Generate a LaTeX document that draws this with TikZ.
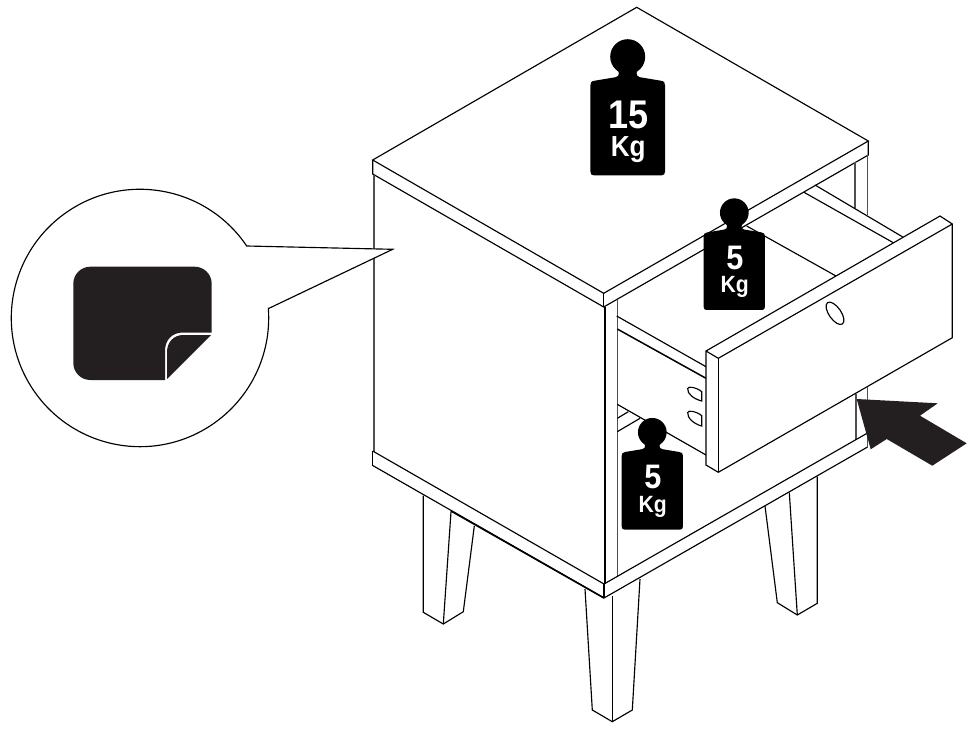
\documentclass[tikz,border=0pt]{standalone}
\usepackage{fontspec}
\setmainfont{Liberation Sans}
\definecolor{inkdark}{HTML}{231F20}
\definecolor{wallgrey}{HTML}{505050}
\tikzset{
  ln/.style={draw=black,line width=1.15pt,line join=miter},
  wall/.style={draw=wallgrey,line width=1.6pt},
  panel/.style={ln,fill=white},
  wtext/.style={text=white,inner sep=0pt,anchor=base},
}
% weight: #1 name, #2 cx, #3 cy, #4 scale, #5 digits, #6 digit size, #7 Kg size, #8 digit baseline dy, #9 Kg baseline dy
\newcommand{\weightmark}[9]{%
  \begin{scope}[shift={(#2,#3)},scale=#4]
    \fill[black] (0,0) circle (17.5);
    \fill[black] (-11,10) .. controls (-9,15) and (-7,19) .. (-12,20.5) -- (-33,24)
      .. controls (-36.5,24.5) and (-37.3,26) .. (-37.3,28.5) -- (-37.3,115)
      .. controls (-37.3,117.5) and (-36,118.6) .. (-34,118.6) -- (34,118.6)
      .. controls (36,118.6) and (37.3,117.5) .. (37.3,115) -- (37.3,28.5)
      .. controls (37.3,26) and (36.5,24.5) .. (33,24) -- (12,20.5)
      .. controls (7,19) and (9,15) .. (11,10) -- cycle;
  \end{scope}
  \node[wtext] (#1d) at (#2+0.5,#3+#8) {\fontsize{#6}{#6}\selectfont\bfseries\scalebox{0.9}[1]{#5}};
  \node[wtext] (#1k) at (#2+0.5,#3+#9) {\fontsize{#7}{#7}\selectfont\bfseries\scalebox{0.9}[1]{Kg}};
}
\begin{document}
\begin{tikzpicture}[x=1pt,y=-1pt]
\useasboundingbox (0,0) rectangle (971,728);
\fill[white] (0,0) rectangle (971,728);

% legs
\draw[ln] (423.3,495.7) -- (423.3,612.3) -- (443.3,624) -- (463.3,611.7) -- (474.3,526);
\draw[ln] (451,511.7) -- (443.3,624);
\draw[ln] (585,589) -- (592.3,710) -- (612.3,721.7) -- (632.3,710) -- (640,579);
\draw[ln] (612.3,596) -- (612.3,721.7);
\draw[ln] (765,506) -- (777.3,602.7) -- (797.3,615) -- (817.3,603.3) -- (817.3,476.7);
\draw[ln] (789.3,492.7) -- (797.3,615);

% top board
\draw[ln] (372.7,160) -- (636.7,7.3) -- (868.3,141) -- (603.7,293.3) -- cycle;
\draw[ln] (372.7,160) -- (372.7,174) -- (603.7,307) -- (868.3,155) -- (868.3,141);
\draw[ln] (603.7,293.3) -- (603.7,307);

% body walls
\draw[wall] (374,175) -- (374,452);
\draw[ln] (605,307) -- (605,584);
\draw[wall] (617.3,300) -- (617.3,577);
\draw[wall] (855,162) -- (855,208);
\draw[wall] (867.5,155) -- (867.5,215);
\draw[wall] (855.7,394) -- (855.7,440);
\draw[wall] (867.5,387) -- (867.5,447);

% base board
\draw[ln] (372.7,451) -- (604,584) -- (867.5,433);
\draw[ln] (372.7,465.5) -- (604,598) -- (867.5,447);
\draw[ln] (372.7,451) -- (372.7,465.5);
\draw[ln] (604,584) -- (604,598);
\draw[draw=black,line width=1.6pt] (451,511) -- (604,598);

% shelf seen under the drawer
\draw[ln] (617.3,431.7) -- (640,418.3);
\draw[ln] (617.3,418.3) -- (628.3,411.7);

% drawer interior
\draw[ln] (616.7,316) -- (706,366.7);
\draw[ln,line width=1.5pt] (617.3,329) -- (706,378.3);
\draw[ln] (617.3,404.3) -- (706,455);
\draw[ln] (746.7,226) -- (836,276);
\draw[ln] (804,192.3) -- (893.3,242.7);
\draw[ln] (815,185) -- (903.3,237.3);

% slots
\draw[ln] (701.7,391.7) -- (701.7,401) .. controls (694,399) and (687,394) .. (687.7,388.5)
  .. controls (688.5,386) and (696,387) .. (701.7,391.7) -- cycle;
\draw[ln] (701.7,415.7) -- (701.7,426) .. controls (694,424) and (687,418) .. (687.7,412.5)
  .. controls (688.5,410) and (696,411) .. (701.7,415.7) -- cycle;

% drawer front
\draw[panel] (706,351) -- (940,216) -- (952.3,224) -- (952.3,337.7) -- (718.3,472.3) -- (706,465) -- cycle;
\draw[ln] (706,351) -- (718.3,358.3) -- (952.3,224);
\draw[ln] (718.3,358.3) -- (718.3,472.3);
\draw[ln] (835,313.3) ellipse[x radius=13,y radius=6,rotate=-55];

% weights
\weightmark{a}{627.7}{56.7}{1}{15}{40}{29}{71.6}{100}
\weightmark{b}{734.3}{212.7}{0.82}{5}{34}{23.5}{56.6}{80}
\weightmark{c}{652.3}{432.3}{0.82}{5}{34}{23.5}{56.6}{80}

% arrow
\fill[inkdark] (856.7,399) -- (937.7,403.3) -- (920,415.7) -- (966.7,443.3) -- (932.3,465.7) -- (886.7,439) -- (870.7,449.3) -- cycle;

% callout
\draw[panel] (269,308.3) -- (392.7,249.3) -- (246.7,246) arc[start angle=-34,end angle=-364.3,radius=128.7] -- cycle;
\fill[inkdark] (90.3,266.7) -- (194.7,266.7) arc[start angle=-90,end angle=0,radius=17] -- (211.7,332.5)
  -- (183,332.5) .. controls (172,332.5) and (165,340) .. (165,351) -- (165,380)
  -- (90.3,380) arc[start angle=90,end angle=180,radius=17] -- (73.3,283.7) arc[start angle=180,end angle=270,radius=17] -- cycle;
\fill[inkdark] (211,335) -- (183,335) .. controls (174,335) and (167,342) .. (167,352) -- (167,379) -- cycle;
\end{tikzpicture}
\end{document}
